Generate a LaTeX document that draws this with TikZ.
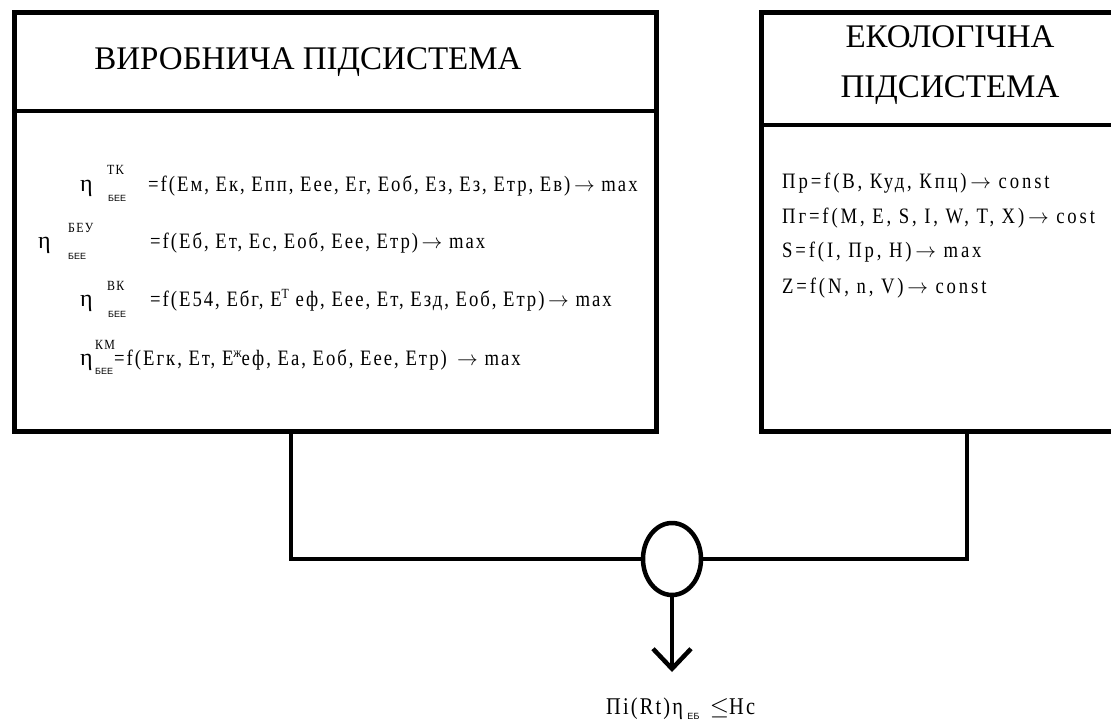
\documentclass[tikz,border=0pt]{standalone}
\usepackage{fontspec}
\setmainfont{Liberation Serif}
\newfontfamily\eqf[FakeStretch=0.85,LetterSpace=9]{Liberation Serif}
\newfontfamily\eqg[FakeStretch=0.85,LetterSpace=13]{Liberation Serif}
\newfontfamily\subf{Liberation Sans}
\usetikzlibrary{shapes.geometric,arrows.meta,calc}
\newcommand{\toarr}{\,$\rightarrow$}
\tikzset{
  frame/.style={draw, line width=4.5pt, inner sep=0pt, anchor=north west},
  conn/.style={line width=4.5pt, line join=miter},
  head/.style={font=\fontsize{33}{33}\selectfont, inner sep=0pt},
  eq/.style={font=\eqf\fontsize{22}{22}\selectfont, inner sep=0pt, anchor=base west},
  eqr/.style={font=\eqg\fontsize{22}{22}\selectfont, inner sep=0pt, anchor=base west},
  res/.style={font=\eqf\fontsize{24}{24}\selectfont, inner sep=0pt, anchor=base west},
  eta/.style={font=\fontsize{24}{24}\selectfont, inner sep=0pt, anchor=base west},
  sup/.style={font=\eqf\fontsize{14}{14}\selectfont, inner sep=0pt, anchor=base west},
  sub/.style={font=\subf\fontsize{9}{9}\selectfont, inner sep=0pt, anchor=base west}
}
\begin{document}
\begin{tikzpicture}[x=1pt,y=-1pt]
\useasboundingbox (0,0) rectangle (1111,724);
\clip (0,0) rectangle (1111,724);

% production subsystem
\node[frame, minimum width=642pt, minimum height=419pt] (prod) at (12,10) {};
\draw[conn] (prod.west |- 0,111) -- (prod.east |- 0,111);
\node[head] (prodtitle) at (308,62) {ВИРОБНИЧА ПІДСИСТЕМА};

% efficiency criteria
\node[eta] (e1) at (80,191) {η};
\node[sup] (s1) at (107,174) {TK};
\node[sub] (b1) at (108,201) {БЕЕ};
\node[eq] (f1) at (148,191) {=f(Ем, Ек, Епп, Еее, Ег, Еоб, Ез, Ез, Етр, Ев)\toarr{} max};

\node[eta] (e2) at (38,248) {η};
\node[sup] (s2) at (68,232) {БЕУ};
\node[sub] (b2) at (68,259) {БЕЕ};
\node[eq] (f2) at (150,248) {=f(Еб, Ет, Ес, Еоб, Еее, Етр)\toarr{} max};

\node[eta] (e3) at (80,306) {η};
\node[sup] (s3) at (107,290) {ВК};
\node[sub] (b3) at (108,317) {БЕЕ};
\node[eq] (f3) at (150,306) {=f(Е54, Ебг, Е\raisebox{8pt}{\fontsize{14}{14}\selectfont T} еф, Еее, Ет, Езд, Еоб, Етр)\toarr{} max};

\node[eta] (e4) at (80,365) {η};
\node[sup] (s4) at (95,349) {КМ};
\node[sub] (b4) at (95,374) {БЕЕ};
\node[eq] (f4) at (114,365) {=f(Егк, Ет, Е\raisebox{8pt}{\fontsize{14}{14}\selectfont ж}еф, Еа, Еоб, Еее, Етр) \toarr{} max};

% ecological subsystem
\node[frame, minimum width=380pt, minimum height=419pt] (eco) at (759,10) {};
\draw[conn] (eco.west |- 0,125) -- (eco.east |- 0,125);
\node[head] (ecotitle1) at (950,37) {ЕКОЛОГІЧНА};
\node[head] (ecotitle2) at (950,90) {ПІДСИСТЕМА};

\node[eqr] (g1) at (782,188) {Пр=f(В, Куд, Кпц)\toarr{} const};
\node[eqr] (g2) at (782,223) {Пг=f(M, E, S, I, W, T, X)\toarr{} cost};
\node[eqr] (g3) at (782,257) {S=f(I, Пр, H)\toarr{} max};
\node[eqr] (g4) at (782,293) {Z=f(N, n, V)\toarr{} const};

% junction and result
\node[draw, ellipse, line width=4.5pt, minimum width=58pt, minimum height=72pt, inner sep=0pt] (join) at (672,559) {};
\draw[conn] ($(prod.south west)+(279,0)$) |- (join.west);
\draw[conn] (join.east) -| ($(eco.south west)+(208,0)$);
\coordinate (tip) at (672,672);
\draw[conn, -{Straight Barb[length=20pt,width=38pt]}] (join.south) -- (tip);

\node[res] (r1) at (606,714) {Пi(Rt)η};
\node[sub] (r2) at (r1.base east) [xshift=4pt, yshift=-5pt] {ЕБ};
\node[res] (r3) at (r2.base east) [xshift=10pt, yshift=5pt] {$\leq$Hc};
\end{tikzpicture}
\end{document}
